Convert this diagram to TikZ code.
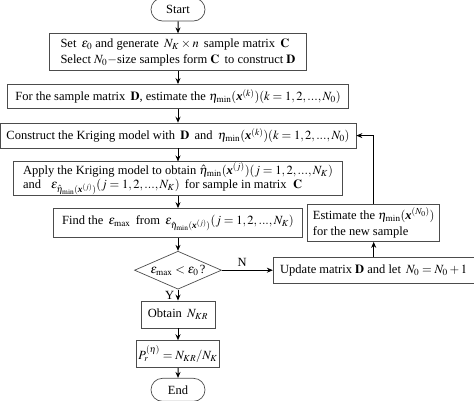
\documentclass[tikz,border=0pt]{standalone}
\usepackage{amsmath}
\usepackage{mathptmx}
\usepackage{fontspec}
\setmainfont{Liberation Serif}
\usetikzlibrary{shapes,arrows.meta,positioning,calc}

\newcommand{\bx}{\textbf{\textit{x}}}

\begin{document}
\begin{tikzpicture}[node distance=12pt, auto]

% Define styles
\tikzstyle{base} = [draw=black!70, line width=0.7pt, inner xsep=2pt, inner ysep=0.5pt, text=black, font=\fontsize{12.5pt}{16pt}\selectfont]
\tikzstyle{terminal} = [base, rounded rectangle, minimum width=58pt, minimum height=23pt]
\tikzstyle{process} = [base, rectangle, align=left]
\tikzstyle{decision} = [base, diamond, aspect=2.3, inner sep=0pt, minimum width=87pt, minimum height=38pt]
\tikzstyle{arrow} = [line width=1pt, ->, >={Stealth[length=6pt, width=5pt]}]

\useasboundingbox (0,0) rectangle (474pt,-400pt);

% MAIN COLUMN
\node (start) [terminal] at (178pt,-9.5pt) {Start};
\node (setup) [process, below=12pt of start, minimum width=257pt, minimum height=37pt] {Set \,$\varepsilon_0$ and generate \,$N_K\times n$\, sample matrix \,$\mathbf{C}$\\Select $N_0-$size samples form $\mathbf{C}$\, to construct $\mathbf{D}$};
\node (estD) [process, below=13pt of setup, minimum width=341pt, minimum height=24pt] {For the sample matrix \,$\mathbf{D}$, estimate the $\eta_{\min}(\bx^{(k)})(k=1,2,...,N_0)$};
\node (krig) [process, below=14pt of estD, minimum width=356pt, minimum height=25pt] {Construct the Kriging model with \,$\mathbf{D}$\, and \,$\eta_{\min}(\bx^{(k)})(k=1,2,...,N_0)$};
\node (apply) [process, below=13pt of krig, minimum width=329pt, minimum height=34pt, font=\fontsize{12.5pt}{14pt}\selectfont] {Apply the Kriging model to obtain $\hat{\eta}_{\min}(\bx^{(j)})(j=1,2,...,N_K)$\\and \;\;$\varepsilon_{\hat{\eta}_{\min}(\bx^{(j)})}(j=1,2,...,N_K)$\, for sample in matrix \;$\mathbf{C}$};
\node (findmax) [process, below=12pt of apply, minimum width=249pt, minimum height=29pt] {Find the \,$\varepsilon_{\max}$\, from \,$\varepsilon_{\hat{\eta}_{\min}(\bx^{(j)})}(j=1,2,...,N_K)$};
\node (check) [decision, below=13pt of findmax] {$\varepsilon_{\max}<\varepsilon_0\,$?};
\node (obtain) [process, below=11pt of check, minimum width=74pt, minimum height=27pt] {Obtain \,$N_{KR}$};
\node (prob) [process, below=12pt of obtain, minimum width=82pt, minimum height=27pt] {$P_r^{(\eta)}=N_{KR}/N_K$};
\node (end) [terminal, below=10pt of prob, minimum height=23pt] {End};

% LOOP BRANCH
\node (update) [process, right=51pt of check, minimum width=201pt, minimum height=26pt] {Update matrix $\mathbf{D}$ and let \,$N_0=N_0+1$};
\node (estnew) [process, above=15pt of update, minimum width=132pt, minimum height=37pt] {Estimate the $\eta_{\min}(\bx^{(N_0)})$\\for the new sample};

% Connections
\draw [arrow] (start) -- (setup);
\draw [arrow] (setup) -- (estD);
\draw [arrow] (estD) -- (krig);
\draw [arrow] (krig) -- (apply);
\draw [arrow] (apply) -- (findmax);
\draw [arrow] (findmax) -- (check);
\draw [arrow] (check) -- node[left, font=\fontsize{12.5pt}{14pt}\selectfont] {Y} (obtain);
\draw [arrow] (obtain) -- (prob);
\draw [arrow] (prob) -- (end);
\draw [arrow] (check) -- node[above, pos=0.4, font=\fontsize{12.5pt}{14pt}\selectfont] {N} (update);
\draw [arrow] (update) -- (estnew);
\draw [arrow] (estnew) |- (krig);

\end{tikzpicture}
\end{document}
